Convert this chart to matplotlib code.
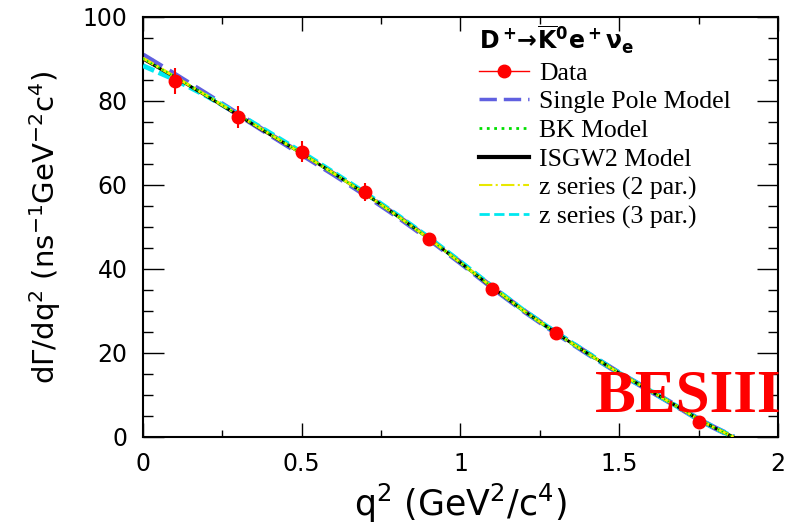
import matplotlib
matplotlib.use('Agg')
import matplotlib.pyplot as plt
from matplotlib.lines import Line2D
from matplotlib.ticker import MultipleLocator

# measured dGamma/dq2 points
q2_data = [0.1, 0.3, 0.5, 0.7, 0.9, 1.1, 1.3, 1.75]
rate_data = [84.8, 76.2, 67.9, 58.3, 47.1, 35.2, 24.8, 3.6]
rate_err = [3.1, 2.7, 2.5, 2.1, 1.5, 1.2, 0.8, 0.5]

# model curves
q2_fit = [0.0, 0.1, 0.2, 0.3, 0.4, 0.5, 0.6, 0.7, 0.8, 0.9, 1.0,
          1.1, 1.2, 1.3, 1.4, 1.5, 1.6, 1.7, 1.75, 1.8, 1.86]
single_pole = [90.9, 86.3, 81.6, 76.8, 72.0, 67.3, 62.6, 57.7, 52.6, 47.2, 41.5,
               35.6, 30.0, 24.8, 19.9, 15.2, 10.9, 6.5, 4.2, 2.2, 0.0]
bk_model = [90.1, 85.8, 81.3, 76.7, 72.1, 67.5, 62.8, 57.9, 52.7, 47.3, 41.5,
            35.7, 30.0, 24.8, 19.9, 15.2, 10.9, 6.5, 4.2, 2.2, 0.0]
isgw2_model = [90.0, 85.7, 81.2, 76.6, 72.0, 67.5, 62.8, 57.9, 52.7, 47.3, 41.5,
               35.6, 30.0, 24.8, 19.9, 15.2, 10.9, 6.5, 4.2, 2.2, 0.0]
z_2par = [90.2, 85.8, 81.3, 76.7, 72.1, 67.5, 62.8, 57.9, 52.7, 47.3, 41.5,
          35.7, 30.0, 24.8, 19.9, 15.2, 10.9, 6.5, 4.2, 2.2, 0.0]
z_3par = [88.4, 85.1, 81.2, 76.9, 72.4, 67.8, 63.0, 58.1, 52.9, 47.5, 41.7,
          35.8, 30.1, 24.9, 20.0, 15.2, 10.9, 6.5, 4.2, 2.2, 0.0]

plt.rcParams['font.family'] = 'DejaVu Sans'
plt.rcParams['mathtext.fontset'] = 'dejavusans'

fig = plt.figure(figsize=(7.88, 5.30), dpi=100)
ax = fig.add_axes([143 / 788, 93 / 530, 635 / 788, 420 / 530])

ax.plot(q2_fit, single_pole, color='#6060e0', lw=4, ls=(0, (4, 1.5)), zorder=2)
ax.plot(q2_fit, z_3par, color='#00e8f0', lw=3.5, ls=(0, (2.5, 1)), zorder=3)
ax.plot(q2_fit, isgw2_model, color='black', lw=2.2, zorder=4)
ax.plot(q2_fit, z_2par, color='#f0f000', lw=2.2, ls=(0, (4, 1, 1, 1)), zorder=5)
ax.plot(q2_fit, bk_model, color='#00e000', lw=1.2, ls=':', zorder=5)

ax.errorbar(q2_data, rate_data, yerr=rate_err, fmt='o', color='red', ms=9,
            elinewidth=1.5, capsize=0, zorder=6)

ax.set_xlim(0, 2)
ax.set_ylim(0, 100)
ax.xaxis.set_major_locator(MultipleLocator(0.5))
ax.xaxis.set_minor_locator(MultipleLocator(0.25))
ax.yaxis.set_major_locator(MultipleLocator(20))
ax.yaxis.set_minor_locator(MultipleLocator(5))
ax.set_xticks([0, 0.5, 1, 1.5, 2], ['0', '0.5', '1', '1.5', '2'])

ax.tick_params(axis='x', which='both', direction='in', top=True, labelsize=17, pad=11)
ax.tick_params(axis='y', which='both', direction='in', right=True, labelsize=17, pad=11)
ax.tick_params(axis='x', which='major', length=10, width=1)
ax.tick_params(axis='x', which='minor', length=5, width=1)
ax.tick_params(axis='y', which='major', length=15, width=1)
ax.tick_params(axis='y', which='minor', length=7, width=1)
for s in ax.spines.values():
    s.set_linewidth(1.5)

ax.set_xlabel(r'q$^2$ (GeV$^2$/c$^4$)', fontsize=25, labelpad=4)
ax.set_ylabel(r'd$\Gamma$/dq$^2$ (ns$^{-1}$GeV$^{-2}$c$^4$)', fontsize=21, labelpad=14)

handles = [
    Line2D([], [], color='red', marker='o', ms=9, lw=1),
    Line2D([], [], color='#6060e0', lw=2.5, ls=(0, (5, 2))),
    Line2D([], [], color='#00e000', lw=2, ls=':'),
    Line2D([], [], color='black', lw=3),
    Line2D([], [], color='#e8e800', lw=1.5, ls='-.'),
    Line2D([], [], color='#00e8f0', lw=2, ls='--'),
]
labels = ['Data', 'Single Pole Model', 'BK Model', 'ISGW2 Model',
          'z series (2 par.)', 'z series (3 par.)']
leg = ax.legend(handles, labels, loc='upper left', bbox_to_anchor=(0.505, 1.02),
                frameon=False, prop={'family': 'Liberation Serif', 'size': 18.5},
                handlelength=1.95, handletextpad=0.4, labelspacing=0.22,
                title=r'$\mathbf{D^+\!\!\rightarrow\!\overline{K}^0 e^+\nu_e}$',
                title_fontsize=17, alignment='left', borderaxespad=0.2)

ax.text(1.425, 6, 'BESIII', color='red', fontsize=44, fontweight='bold',
        family='Liberation Serif', clip_on=False, zorder=7)

fig.savefig('out.png', dpi=100)
